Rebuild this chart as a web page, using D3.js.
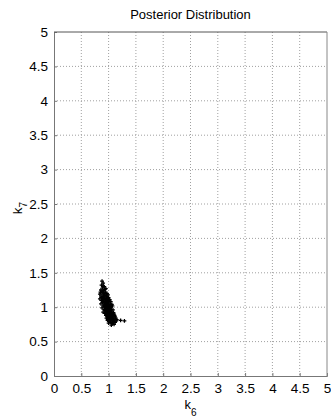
<!DOCTYPE html>
<html>
<head>
<meta charset="utf-8">
<script src="https://cdn.jsdelivr.net/npm/d3@7"></script>
<style>
  body { margin: 0; background: #fff; }
  text { font-family: "Liberation Sans", Arial, sans-serif; fill: #000; }
</style>
</head>
<body>
<div id="chart"></div>
<script>
// axis ticks (same on both axes)
const ticks = [0, 0.5, 1, 1.5, 2, 2.5, 3, 3.5, 4, 4.5, 5];

// posterior samples as [k6, k7]
const samples = [
  [0.88,1.38],[0.9,1.35],[0.87,1.32],[0.92,1.3],[0.89,1.28],[0.95,1.27],[0.86,1.25],[0.91,1.24],
  [0.94,1.22],[0.88,1.21],[0.97,1.2],[0.84,1.19],[0.9,1.18],[0.93,1.17],[0.99,1.18],[0.86,1.16],
  [0.96,1.15],[0.89,1.14],[1.0,1.14],[0.92,1.13],[0.84,1.12],[0.95,1.12],[1.02,1.11],[0.87,1.1],
  [0.98,1.1],[0.91,1.09],[0.94,1.08],[1.04,1.08],[0.89,1.07],[0.97,1.06],[1.0,1.06],[0.92,1.05],
  [0.86,1.05],[1.06,1.04],[0.95,1.03],[0.99,1.03],[1.02,1.02],[0.9,1.02],[0.93,1.01],[0.97,1.0],
  [1.05,1.0],[1.0,0.99],[0.88,0.99],[0.95,0.98],[1.03,0.98],[0.92,0.97],[0.98,0.96],[1.08,0.96],
  [1.01,0.95],[0.94,0.95],[0.96,0.94],[1.04,0.94],[0.9,0.93],[0.99,0.93],[1.06,0.92],[1.02,0.91],
  [0.93,0.91],[0.97,0.9],[1.1,0.9],[1.0,0.89],[1.05,0.88],[0.95,0.88],[1.08,0.87],[1.02,0.86],
  [0.98,0.86],[1.12,0.86],[1.04,0.85],[0.96,0.84],[1.07,0.84],[1.0,0.83],[1.1,0.83],[1.03,0.82],
  [1.15,0.82],[0.98,0.81],[1.06,0.81],[1.22,0.81],[1.29,0.8],[1.01,0.8],[1.09,0.79],[1.04,0.78],
  [1.12,0.78],[1.0,0.77],[1.07,0.76],[1.05,0.74],[1.1,0.75],
  [0.96,1.07],[1.01,1.09],[0.93,1.11],[0.98,1.13],[0.91,1.16],[0.95,1.19],[0.88,1.23],[0.93,1.26],
  [0.9,1.31],[0.97,1.04],[1.03,1.05],[0.94,1.0],[1.0,1.01],[1.07,1.02],[0.96,0.97],[1.02,0.97],
  [0.99,0.92],[1.04,0.9],[0.97,0.93],[1.01,0.87],[1.06,0.86],[1.03,0.88],[0.99,0.84],[1.08,0.82],
  [1.02,0.79],[0.94,1.06],[0.99,1.08],[0.92,1.03],[1.05,0.96],[1.09,0.92],[1.11,0.88],[1.13,0.84],
  [0.97,1.12],[0.9,1.11],[0.87,1.14],[0.92,1.2],[0.97,1.16],[0.85,1.22],[0.98,0.99],[1.03,1.0],
  [0.95,0.91],[1.07,0.89],[1.0,0.95],[0.93,0.96],[1.05,0.83],[0.97,0.88],[1.1,0.8],[1.14,0.8]
];

const W = 331, H = 419;
const margin = {top: 32, right: 4, bottom: 43, left: 54};
const width = W - margin.left - margin.right;
const height = H - margin.top - margin.bottom;

const svg = d3.select('#chart').append('svg')
  .attr('width', W)
  .attr('height', H);

const g = svg.append('g')
  .attr('transform', 'translate(' + margin.left + ',' + margin.top + ')');

const x = d3.scaleLinear().domain([0, 5]).range([0, width]);
const y = d3.scaleLinear().domain([0, 5]).range([height, 0]);

// dotted grid
g.append('g').selectAll('line.gx')
  .data(ticks.slice(1, -1))
  .enter().append('line')
  .attr('x1', d => x(d)).attr('x2', d => x(d))
  .attr('y1', 0).attr('y2', height)
  .attr('stroke', '#a0a0a0').attr('stroke-dasharray', '1,2');
g.append('g').selectAll('line.gy')
  .data(ticks.slice(1, -1))
  .enter().append('line')
  .attr('y1', d => y(d)).attr('y2', d => y(d))
  .attr('x1', 0).attr('x2', width)
  .attr('stroke', '#a0a0a0').attr('stroke-dasharray', '1,2');

// axes, ticks pointing inward like matlab
const xAxis = d3.axisBottom(x).tickValues(ticks).tickSize(-3).tickPadding(7).tickFormat(d3.format('~g'));
const yAxis = d3.axisLeft(y).tickValues(ticks).tickSize(-3).tickPadding(6).tickFormat(d3.format('~g'));

const gx = g.append('g').attr('transform', 'translate(0,' + height + ')').call(xAxis);
const gy = g.append('g').call(yAxis);
[gx, gy].forEach(a => {
  a.select('.domain').attr('stroke', '#777');
  a.selectAll('.tick line').attr('stroke', '#777');
  a.selectAll('.tick text').style('font-size', '13.5px').attr('fill', '#000');
});

// box top and right
g.append('line').attr('x1', 0).attr('x2', width).attr('y1', 0).attr('y2', 0).attr('stroke', '#555');
g.append('line').attr('x1', width).attr('x2', width).attr('y1', 0).attr('y2', height).attr('stroke', '#888');

// samples
const marker = d3.symbol().type(d3.symbolCross).size(8);
g.append('g').selectAll('path.pt')
  .data(samples)
  .enter().append('path')
  .attr('d', marker)
  .attr('transform', d => 'translate(' + x(d[0]) + ',' + y(d[1]) + ')')
  .attr('fill', '#000');

// title and labels
svg.append('text')
  .attr('x', margin.left + width / 2).attr('y', 19)
  .attr('text-anchor', 'middle').style('font-size', '13px')
  .text('Posterior Distribution');

const xl = svg.append('text')
  .attr('x', margin.left + width / 2).attr('y', 409)
  .attr('text-anchor', 'middle').style('font-size', '13px');
xl.append('tspan').text('k');
xl.append('tspan').attr('dy', 7).style('font-size', '10px').text('6');

const yl = svg.append('text')
  .attr('transform', 'translate(22,' + (margin.top + height / 2 + 4) + ') rotate(-90)')
  .attr('text-anchor', 'middle').style('font-size', '13.5px');
yl.append('tspan').text('k');
yl.append('tspan').attr('dy', 5).style('font-size', '10px').text('7');
</script>
</body>
</html>
